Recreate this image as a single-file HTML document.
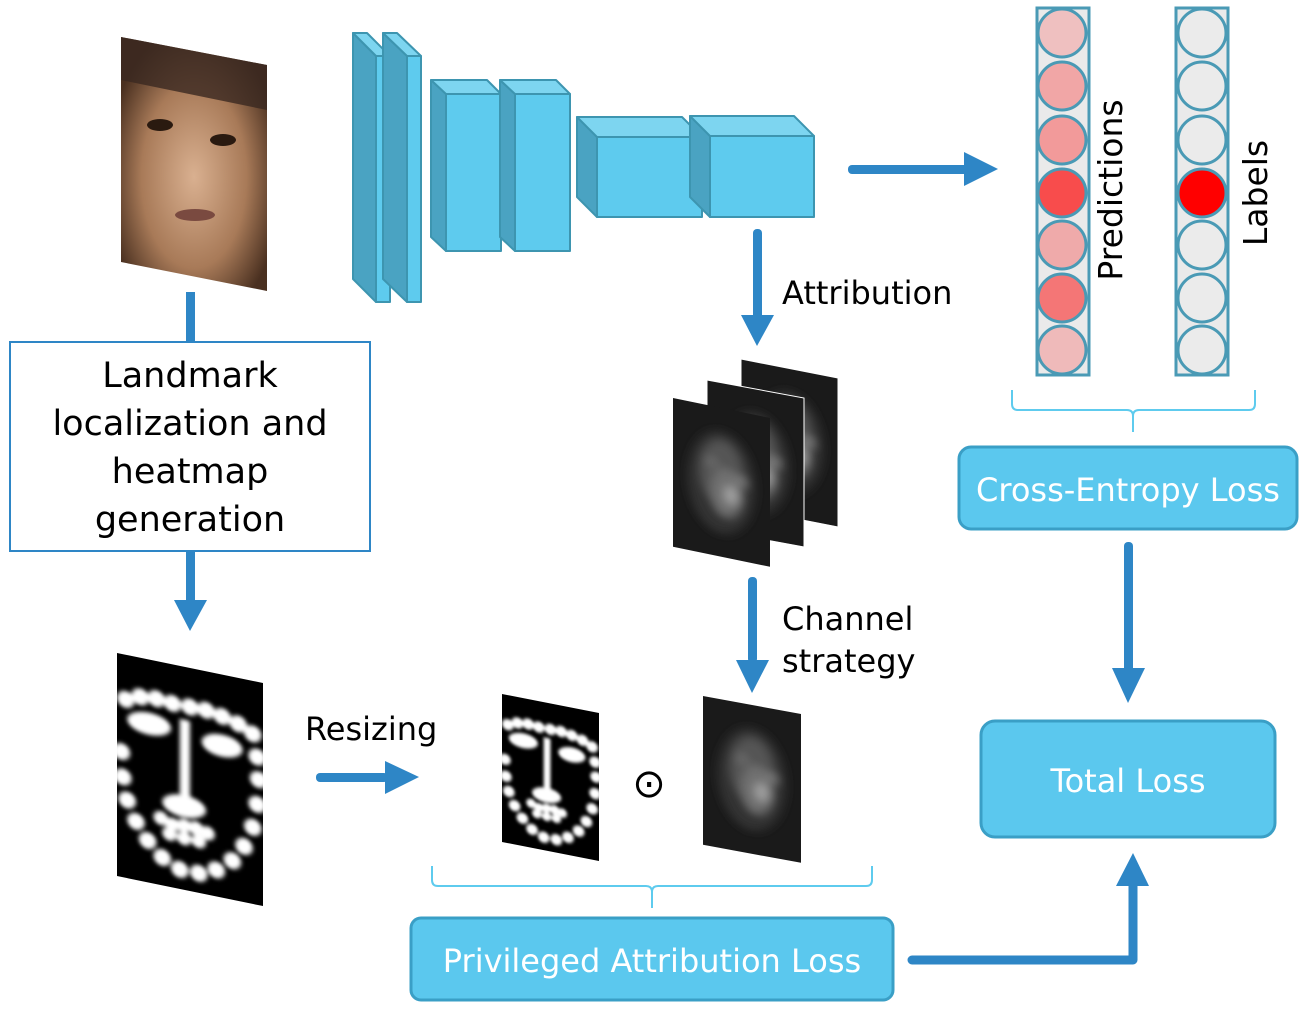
<!DOCTYPE html>
<html><head><style>
html,body{margin:0;padding:0;background:#fff;}
svg{display:block;}
text{font-family:"DejaVu Sans","Liberation Sans",sans-serif;}
</style></head><body>
<svg width="1305" height="1009" viewBox="0 0 1305 1009" xmlns="http://www.w3.org/2000/svg">
<defs>
<filter id="bl" x="-20%" y="-20%" width="140%" height="140%"><feGaussianBlur stdDeviation="1.6"/></filter>
<filter id="bl2" x="-50%" y="-50%" width="200%" height="200%"><feGaussianBlur stdDeviation="5"/></filter>
<radialGradient id="face" cx="50%" cy="55%" r="60%">
<stop offset="0" stop-color="#d9b090"/><stop offset="0.6" stop-color="#a87a58"/><stop offset="1" stop-color="#4a3020"/></radialGradient>
<g id="lm">
<rect x="0" y="0" width="100" height="160" fill="#000"/>
<g fill="#fff" filter="url(#bl)">
<circle cx="6" cy="32" r="6"/><circle cx="16" cy="28" r="6"/><circle cx="27" cy="27" r="6"/><circle cx="38" cy="28" r="6"/><circle cx="50" cy="28" r="6"/><circle cx="61" cy="28" r="6"/><circle cx="72" cy="30" r="6"/><circle cx="83" cy="33" r="6"/><circle cx="93" cy="38" r="6"/>
<ellipse cx="22" cy="46" rx="15" ry="8"/><ellipse cx="72" cy="51" rx="14" ry="8"/>
<rect x="43" y="38" width="7" height="60"/>
<ellipse cx="46" cy="100" rx="15" ry="8"/>
<circle cx="30" cy="112" r="5"/><circle cx="38" cy="115" r="5"/><circle cx="46" cy="114" r="5"/><circle cx="54" cy="114" r="5"/><circle cx="62" cy="116" r="5"/>
<circle cx="36" cy="122" r="5"/><circle cx="46" cy="123" r="5"/><circle cx="56" cy="123" r="5"/>
<circle cx="3" cy="70" r="6"/><circle cx="4" cy="88" r="6"/><circle cx="7" cy="104" r="6"/><circle cx="13" cy="118" r="6"/><circle cx="21" cy="130" r="6"/><circle cx="31" cy="140" r="6"/><circle cx="43" cy="146" r="6"/><circle cx="56" cy="146" r="6"/><circle cx="68" cy="141" r="6"/><circle cx="79" cy="132" r="6"/><circle cx="87" cy="120" r="6"/><circle cx="93" cy="105" r="6"/><circle cx="96" cy="88" r="6"/><circle cx="97" cy="70" r="6"/><circle cx="96" cy="54" r="6"/>
</g></g>
<g id="hm">
<rect x="0" y="0" width="100" height="160" fill="#1a1a1a"/>
<g filter="url(#bl2)">
<ellipse cx="50" cy="80" rx="35" ry="55" fill="#333"/>
<ellipse cx="50" cy="70" rx="22" ry="35" fill="#555"/>
<ellipse cx="55" cy="90" rx="16" ry="26" fill="#707070"/>
<ellipse cx="60" cy="92" rx="7" ry="10" fill="#a0a0a0"/>
<circle cx="40" cy="60" r="6" fill="#6a6a6a"/><circle cx="70" cy="75" r="6" fill="#7a7a7a"/>
</g></g>
</defs>

<polygon points="121,37 267,65 267,291 121,262" fill="url(#face)"/>
<polygon points="121,37 267,65 267,110 121,80" fill="#3a2820" opacity="0.8"/>
<ellipse cx="160" cy="125" rx="13" ry="6" fill="#2a1a10"/><ellipse cx="223" cy="140" rx="13" ry="6" fill="#2a1a10"/>
<ellipse cx="195" cy="215" rx="20" ry="6" fill="#7a4a40"/>

<g stroke="#3d95b0" stroke-width="2" stroke-linejoin="round">
<polygon points="353,33 376,56 376,302 353,279" fill="#4aa3c2"/><polygon points="353,33 367,33 390,56 376,56" fill="#7dd5f0"/><rect x="376" y="56" width="14" height="246" fill="#5ecbee"/>
<polygon points="383,33 407,56 407,302 383,279" fill="#4aa3c2"/><polygon points="383,33 397,33 421,56 407,56" fill="#7dd5f0"/><rect x="407" y="56" width="14" height="246" fill="#5ecbee"/>
<polygon points="431,80 446,94 446,251 431,237" fill="#4aa3c2"/><polygon points="431,80 487,80 501,94 446,94" fill="#7dd5f0"/><rect x="446" y="94" width="55" height="157" fill="#5ecbee"/>
<polygon points="500,80 515,94 515,251 500,237" fill="#4aa3c2"/><polygon points="500,80 556,80 570,94 515,94" fill="#7dd5f0"/><rect x="515" y="94" width="55" height="157" fill="#5ecbee"/>
<polygon points="577,117 597,137 597,217 577,197" fill="#4aa3c2"/><polygon points="577,117 682,117 702,137 597,137" fill="#7dd5f0"/><rect x="597" y="137" width="105" height="80" fill="#5ecbee"/>
<polygon points="690,116 710,136 710,217 690,197" fill="#4aa3c2"/><polygon points="690,116 794,116 814,136 710,136" fill="#7dd5f0"/><rect x="710" y="136" width="104" height="81" fill="#5ecbee"/>
</g>

<g fill="#2e86c6" stroke="none">
<rect x="186" y="292" width="9" height="52"/>
<rect x="186" y="551" width="9" height="52"/><polygon points="174,600 207,600 190,631"/>
<rect x="316" y="773" width="72" height="9" rx="4"/><polygon points="385,761 385,794 419,777"/>
<rect x="848" y="165" width="120" height="9" rx="4"/><polygon points="964,152 964,186 998,169"/>
<rect x="753" y="229" width="9" height="90" rx="4"/><polygon points="741,315 774,315 757,346"/>
<rect x="748" y="577" width="9" height="86" rx="4"/><polygon points="736,660 769,660 752,693"/>
<rect x="1124" y="542" width="9" height="130" rx="4"/><polygon points="1112,668 1145,668 1128,703"/>
<path d="M912,960 H1133 V882" fill="none" stroke="#2e86c6" stroke-width="9" stroke-linecap="round" stroke-linejoin="round"/>
<polygon points="1116,886 1149,886 1133,853"/>
</g>

<rect x="10" y="342" width="360" height="209" fill="#fff" stroke="#2e86c6" stroke-width="2"/>
<g font-size="35" text-anchor="middle" fill="#000">
<text x="190" y="387">Landmark</text><text x="190" y="435">localization and</text><text x="190" y="483">heatmap</text><text x="190" y="531">generation</text>
</g>

<use href="#lm" transform="matrix(1.46,0.3,0,1.394,117,653)"/>
<use href="#lm" transform="matrix(0.97,0.19,0,0.925,502,694)"/>
<use href="#hm" transform="matrix(0.98,0.18,0,0.93,703,696)"/>
<use href="#hm" transform="matrix(0.97,0.19,0,0.93,741,359)" />
<polygon points="741,359 838,378 838,527 741,508" fill="none" stroke="#fff" stroke-width="1"/>
<use href="#hm" transform="matrix(0.97,0.18,0,0.93,707,380)"/>
<polygon points="707,380 804,398 804,547 707,529" fill="none" stroke="#fff" stroke-width="1"/>
<use href="#hm" transform="matrix(0.97,0.2,0,0.93,673,398)"/>

<text x="305" y="740" font-size="32">Resizing</text>
<text x="649" y="797" font-size="40" text-anchor="middle">⊙</text>
<text x="782" y="304" font-size="32">Attribution</text>
<text x="782" y="630" font-size="32">Channel</text>
<text x="782" y="672" font-size="32">strategy</text>

<path d="M432,866 V880 Q432,886 438,886 H646 Q652,886 652,892 V908 M652,892 Q652,886 658,886 H866 Q872,886 872,880 V866" fill="none" stroke="#5ecbee" stroke-width="2"/>
<path d="M1012,390 V404 Q1012,410 1018,410 H1127 Q1133,410 1133,416 V432 M1133,416 Q1133,410 1139,410 H1249 Q1255,410 1255,404 V390" fill="none" stroke="#5ecbee" stroke-width="2"/>

<rect x="1037" y="8" width="52" height="367" fill="#eaeaea" stroke="#4a9ab5" stroke-width="3"/>
<rect x="1176" y="8" width="52" height="367" fill="#eaeaea" stroke="#4a9ab5" stroke-width="3"/>
<g stroke="#4a9ab5" stroke-width="3">
<circle cx="1062" cy="33" r="24" fill="#efc0c0"/><circle cx="1062" cy="86" r="24" fill="#f1a6a6"/><circle cx="1062" cy="140" r="24" fill="#f29a9a"/><circle cx="1062" cy="193" r="24" fill="#f84c4c"/><circle cx="1062" cy="245" r="24" fill="#efaaaa"/><circle cx="1062" cy="298" r="24" fill="#f47676"/><circle cx="1062" cy="350" r="24" fill="#efbaba"/>
<circle cx="1202" cy="33" r="24" fill="#ebebeb"/><circle cx="1202" cy="86" r="24" fill="#ebebeb"/><circle cx="1202" cy="140" r="24" fill="#ebebeb"/><circle cx="1202" cy="193" r="24" fill="#ff0000"/><circle cx="1202" cy="245" r="24" fill="#ebebeb"/><circle cx="1202" cy="298" r="24" fill="#ebebeb"/><circle cx="1202" cy="350" r="24" fill="#ebebeb"/>
</g>
<text transform="translate(1122,190) rotate(-90)" font-size="33" text-anchor="middle">Predictions</text>
<text transform="translate(1267,193) rotate(-90)" font-size="33" text-anchor="middle">Labels</text>

<g fill="#5bc8ee" stroke="#3a9fc6" stroke-width="3">
<rect x="959" y="447" width="338" height="82" rx="12"/>
<rect x="981" y="721" width="294" height="116" rx="14"/>
<rect x="411" y="918" width="482" height="82" rx="10"/>
</g>
<g fill="#fff" font-size="32" text-anchor="middle">
<text x="1128" y="501">Cross-Entropy Loss</text>
<text x="1128" y="792">Total Loss</text>
<text x="652" y="972">Privileged Attribution Loss</text>
</g>
</svg>
</body></html>
